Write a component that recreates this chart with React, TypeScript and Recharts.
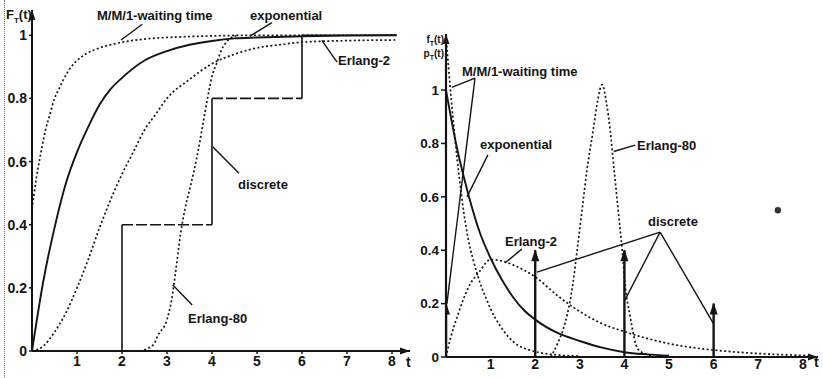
import React from 'react';
import { ComposedChart, Line, XAxis, YAxis, ReferenceLine, ReferenceDot } from 'recharts';

// ---- left panel: distribution functions F_T(t) ----
const tExpCdf = [0, 0.25, 0.5, 0.75, 1, 1.25, 1.5, 1.75, 2, 2.5, 3, 3.5, 4, 4.5, 5, 6, 7, 8.1];
const vExpCdf = [0, 0.22, 0.39, 0.53, 0.63, 0.71, 0.78, 0.83, 0.865, 0.92, 0.95, 0.97, 0.982, 0.99, 0.993, 0.997, 0.999, 1];

const tMm1Cdf = [0, 0.1, 0.2, 0.3, 0.4, 0.5, 0.6, 0.7, 0.8, 0.9, 1, 1.25, 1.5, 1.75, 2, 2.5, 3, 3.5, 4, 5, 6, 7, 8.1];
const vMm1Cdf = [0.45, 0.55, 0.63, 0.7, 0.75, 0.8, 0.83, 0.86, 0.885, 0.905, 0.92, 0.945, 0.96, 0.97, 0.978, 0.988, 0.993, 0.996, 0.998, 1, 1, 1, 1];

const tErl2Cdf = [0, 0.25, 0.5, 0.75, 1, 1.25, 1.5, 1.75, 2, 2.25, 2.5, 2.75, 3, 3.5, 4, 4.5, 5, 5.5, 6, 7, 8.1];
const vErl2Cdf = [0, 0.015, 0.06, 0.12, 0.2, 0.29, 0.39, 0.48, 0.56, 0.63, 0.7, 0.75, 0.8, 0.86, 0.91, 0.94, 0.96, 0.97, 0.978, 0.983, 0.985];

const tErl80Cdf = [2.4, 2.7, 2.8, 3, 3.1, 3.2, 3.3, 3.4, 3.5, 3.6, 3.7, 3.8, 3.9, 4, 4.1, 4.2, 4.3, 4.4, 4.6];
const vErl80Cdf = [0, 0.02, 0.05, 0.1, 0.16, 0.26, 0.37, 0.45, 0.51, 0.57, 0.64, 0.72, 0.8, 0.87, 0.91, 0.95, 0.975, 0.99, 1];

// discrete: steps at t = 2, 4, 6
const tDiscSteps = [2, 4, 6];
const vDiscLevels = [0, 0.4, 0.8, 1];
const tEnd = 8.1;

// ---- right panel: densities f_T(t) / p_T(t) ----
const tExpPdf = [0, 0.25, 0.5, 0.75, 1, 1.25, 1.5, 1.75, 2, 2.5, 3, 3.5, 4, 4.5, 5];
const vExpPdf = [1, 0.78, 0.61, 0.47, 0.37, 0.29, 0.225, 0.175, 0.14, 0.09, 0.06, 0.035, 0.018, 0.01, 0.005];

const tMm1Pdf = [0, 0.1, 0.2, 0.3, 0.4, 0.5, 0.6, 0.7, 0.8, 0.9, 1, 1.2, 1.4, 1.6, 1.8, 2, 2.5, 3];
const vMm1Pdf = [1.2, 1.0, 0.82, 0.67, 0.54, 0.44, 0.37, 0.31, 0.26, 0.22, 0.18, 0.12, 0.075, 0.045, 0.03, 0.02, 0.008, 0.003];

const tErl2Pdf = [0, 0.1, 0.25, 0.5, 0.75, 1, 1.25, 1.5, 2, 2.5, 3, 3.5, 4, 4.5, 5, 5.5, 6, 7, 8, 8.2];
const vErl2Pdf = [0, 0.07, 0.15, 0.26, 0.32, 0.365, 0.36, 0.345, 0.3, 0.23, 0.17, 0.125, 0.095, 0.07, 0.05, 0.036, 0.026, 0.013, 0.006, 0.005];

const tErl80Pdf = [2.35, 2.5, 2.62, 2.72, 2.85, 2.94, 3.05, 3.16, 3.3, 3.4, 3.5, 3.6, 3.68, 3.77, 3.86, 3.95, 4.01, 4.13, 4.3, 4.5, 4.75];
const vErl80Pdf = [0, 0.05, 0.1, 0.16, 0.28, 0.4, 0.55, 0.7, 0.85, 0.96, 1.02, 0.95, 0.85, 0.7, 0.55, 0.4, 0.28, 0.15, 0.03, 0.01, 0];

// impulses (probability masses)
const tImpulse = [0, 2, 4, 6];
const pImpulse = [0.2, 0.4, 0.4, 0.2];

const xTicks = [1, 2, 3, 4, 5, 6, 7, 8];
const yTicks = [0, 0.2, 0.4, 0.6, 0.8, 1];

const INK = '#141414';
const FONT = "'Liberation Sans', Arial, sans-serif";
const DOTTED = '2 2.4';

const zip = (t: number[], v: (number | null)[]) => t.map((x, i) => ({ t: x, v: v[i] }));

// discrete CDF: solid risers, long-dashed treads
const discRisers: { t: number; v: number | null }[] = [];
tDiscSteps.forEach((s, i) => {
  discRisers.push({ t: s, v: vDiscLevels[i] }, { t: s, v: vDiscLevels[i + 1] });
  if (i < tDiscSteps.length - 1) discRisers.push({ t: s, v: null });
});
discRisers.push({ t: tEnd, v: 1 });
const discTreads: { t: number; v: number | null }[] = [];
tDiscSteps.slice(0, -1).forEach((s, i) => {
  discTreads.push({ t: s, v: vDiscLevels[i + 1] }, { t: tDiscSteps[i + 1], v: vDiscLevels[i + 1] }, { t: tDiscSteps[i + 1], v: null });
});

const tickStyle = { fill: INK, fontSize: 14, fontWeight: 'bold', fontFamily: FONT };

const ArrowTip = (props: any) => {
  const { cx, cy, index } = props;
  if (index !== 1 || cx == null || cy == null) return <g key={`n${index}`} />;
  return <path key={`a${index}`} d={`M${cx},${cy - 1} L${cx - 4},${cy + 11} L${cx + 4},${cy + 11} Z`} fill={INK} />;
};

// axis arrowheads, drawn at the end of each axis
const UpHead = (p: any) => <path d={`M${p.cx},${p.cy} L${p.cx - 3.5},${p.cy + 10} L${p.cx + 3.5},${p.cy + 10} Z`} fill={INK} />;
const RightHead = (p: any) => <path d={`M${p.cx},${p.cy} L${p.cx - 10},${p.cy - 3.5} L${p.cx - 10},${p.cy + 3.5} Z`} fill={INK} />;

const Lbl = ({ x, y, children, size = 13, right }: any) => (
  <div
    style={{
      position: 'absolute',
      left: right ? undefined : x,
      right: right ? 823 - x : undefined,
      top: y - 8,
      lineHeight: '16px',
      fontSize: size,
      fontWeight: 'bold',
      fontFamily: FONT,
      color: INK,
      whiteSpace: 'nowrap',
    }}
  >
    {children}
  </div>
);

const leader = (a: [number, number], b: [number, number], k: string) => (
  <ReferenceLine
    key={k}
    segment={[{ x: a[0], y: a[1] }, { x: b[0], y: b[1] }]}
    stroke={INK}
    strokeWidth={1.4}
    ifOverflow="visible"
  />
);

function LeftPanel() {
  return (
    <ComposedChart width={415} height={378} margin={{ top: 10, right: 5, bottom: 2, left: 0 }}>
      <XAxis
        type="number"
        dataKey="t"
        domain={[0, 8.4]}
        ticks={xTicks}
        interval={0}
        height={25}
        allowDataOverflow
        tick={tickStyle}
        tickSize={3}
        tickMargin={2}
        tickLine={{ stroke: INK, strokeWidth: 1.5 }}
        axisLine={{ stroke: INK, strokeWidth: 2 }}
      />
      <YAxis
        type="number"
        dataKey="v"
        domain={[0, 1.08]}
        ticks={yTicks}
        interval={0}
        width={32}
        allowDataOverflow
        tick={tickStyle}
        tickSize={3}
        tickMargin={2}
        tickLine={{ stroke: INK, strokeWidth: 1.5 }}
        axisLine={{ stroke: INK, strokeWidth: 2 }}
      />
      <Line data={zip(tErl2Cdf, vErl2Cdf)} dataKey="v" type="monotone" stroke={INK} strokeWidth={1.7} strokeDasharray={DOTTED} dot={false} isAnimationActive={false} />
      <Line data={zip(tErl80Cdf, vErl80Cdf)} dataKey="v" type="monotone" stroke={INK} strokeWidth={1.7} strokeDasharray={DOTTED} dot={false} isAnimationActive={false} />
      <Line data={zip(tMm1Cdf, vMm1Cdf)} dataKey="v" type="monotone" stroke={INK} strokeWidth={1.7} strokeDasharray={DOTTED} dot={false} isAnimationActive={false} />
      <Line data={zip(tExpCdf, vExpCdf)} dataKey="v" type="monotone" stroke={INK} strokeWidth={1.9} dot={false} isAnimationActive={false} />
      <Line data={discRisers} dataKey="v" type="linear" stroke={INK} strokeWidth={1.6} dot={false} connectNulls={false} isAnimationActive={false} />
      <Line data={discTreads} dataKey="v" type="linear" stroke={INK} strokeWidth={1.6} strokeDasharray="11 3" dot={false} connectNulls={false} isAnimationActive={false} />
      {leader([1.98, 0.985], [2.45, 1.035], 'l1')}
      {leader([4.84, 0.997], [5.33, 1.04], 'l2')}
      {leader([6.44, 0.984], [6.78, 0.915], 'l3')}
      {leader([4.02, 0.646], [4.6, 0.563], 'l4')}
      {leader([3.13, 0.209], [3.56, 0.146], 'l5')}
      <ReferenceDot x={0} y={1.08} r={4} shape={UpHead} ifOverflow="visible" />
      <ReferenceDot x={8.4} y={0} r={4} shape={RightHead} ifOverflow="visible" />
    </ComposedChart>
  );
}

function RightPanel() {
  return (
    <ComposedChart width={408} height={378} margin={{ top: 34, right: 5, bottom: 2, left: 0 }}>
      <XAxis
        type="number"
        dataKey="t"
        domain={[0, 8.34]}
        ticks={xTicks}
        interval={0}
        height={19}
        allowDataOverflow
        tick={tickStyle}
        tickLine={false}
        tickSize={0}
        tickMargin={2}
        axisLine={{ stroke: INK, strokeWidth: 2.2 }}
      />
      <YAxis
        type="number"
        dataKey="v"
        domain={[0, 1.21]}
        ticks={yTicks}
        interval={0}
        width={31}
        allowDataOverflow
        tick={{ ...tickStyle, fontSize: 13.5 }}
        tickSize={5}
        tickMargin={2}
        tickLine={{ stroke: INK, strokeWidth: 1.5 }}
        axisLine={{ stroke: INK, strokeWidth: 2.2 }}
      />
      <Line data={zip(tErl2Pdf, vErl2Pdf)} dataKey="v" type="monotone" stroke={INK} strokeWidth={1.7} strokeDasharray={DOTTED} dot={false} isAnimationActive={false} />
      <Line data={zip(tErl80Pdf, vErl80Pdf)} dataKey="v" type="monotone" stroke={INK} strokeWidth={1.7} strokeDasharray={DOTTED} dot={false} isAnimationActive={false} />
      <Line data={zip(tMm1Pdf, vMm1Pdf)} dataKey="v" type="monotone" stroke={INK} strokeWidth={1.7} strokeDasharray={DOTTED} dot={false} isAnimationActive={false} />
      <Line data={zip(tExpPdf, vExpPdf)} dataKey="v" type="monotone" stroke={INK} strokeWidth={1.9} dot={false} isAnimationActive={false} />
      {tImpulse.map((t, i) => (
        <Line
          key={`imp${i}`}
          data={[{ t, v: 0 }, { t, v: pImpulse[i] }]}
          dataKey="v"
          type="linear"
          stroke={INK}
          strokeWidth={2.4}
          dot={ArrowTip}
          isAnimationActive={false}
        />
      ))}
      {leader([0.65, 1.045], [0.13, 1.01], 'r1')}
      {leader([0.65, 1.045], [0.02, 0.2], 'r2')}
      {leader([0.94, 0.757], [0.47, 0.6], 'r3')}
      {leader([4.24, 0.794], [3.76, 0.77], 'r4')}
      {leader([1.32, 0.352], [1.7, 0.404], 'r5')}
      {leader([4.8, 0.468], [2.04, 0.318], 'r6')}
      {leader([4.8, 0.468], [4.01, 0.213], 'r7')}
      {leader([4.8, 0.468], [5.99, 0.127], 'r8')}
      <ReferenceDot x={7.44} y={0.55} r={3.2} fill="#333" stroke="none" ifOverflow="visible" />
      <ReferenceDot x={0} y={1.21} r={4} shape={UpHead} ifOverflow="visible" />
      <ReferenceDot x={8.34} y={0} r={4} shape={RightHead} ifOverflow="visible" />
    </ComposedChart>
  );
}

export default function App() {
  return (
    <div style={{ position: 'absolute', left: 0, top: 0, width: 823, height: 378, background: '#fff', overflow: 'hidden' }}>
      <div style={{ position: 'absolute', left: 4, top: 0, height: 378, borderLeft: '1.5px dotted #777' }} />
      <div style={{ position: 'absolute', left: 0, top: 0 }}>
        <LeftPanel />
      </div>
      <div style={{ position: 'absolute', left: 415, top: 0 }}>
        <RightPanel />
      </div>

      {/* left panel text */}
      <Lbl x={6} y={15} size={13}>
        F<sub style={{ fontSize: 8 }}>T</sub>(t)
      </Lbl>
      <Lbl x={97} y={16}>M/M/1-waiting time</Lbl>
      <Lbl x={250} y={16}>exponential</Lbl>
      <Lbl x={338} y={61}>Erlang-2</Lbl>
      <Lbl x={238} y={185}>discrete</Lbl>
      <Lbl x={188} y={319}>Erlang-80</Lbl>
      <Lbl x={406} y={362} size={14}>t</Lbl>

      {/* right panel text */}
      <Lbl x={444} y={40} size={10} right>
        f<sub style={{ fontSize: 7 }}>T</sub>(t)
      </Lbl>
      <Lbl x={444} y={54} size={10} right>
        p<sub style={{ fontSize: 7 }}>T</sub>(t)
      </Lbl>
      <Lbl x={462} y={72}>M/M/1-waiting time</Lbl>
      <Lbl x={480} y={145}>exponential</Lbl>
      <Lbl x={637} y={146}>Erlang-80</Lbl>
      <Lbl x={505} y={242}>Erlang-2</Lbl>
      <Lbl x={648} y={222}>discrete</Lbl>
      <Lbl x={814} y={362} size={14}>t</Lbl>
    </div>
  );
}
